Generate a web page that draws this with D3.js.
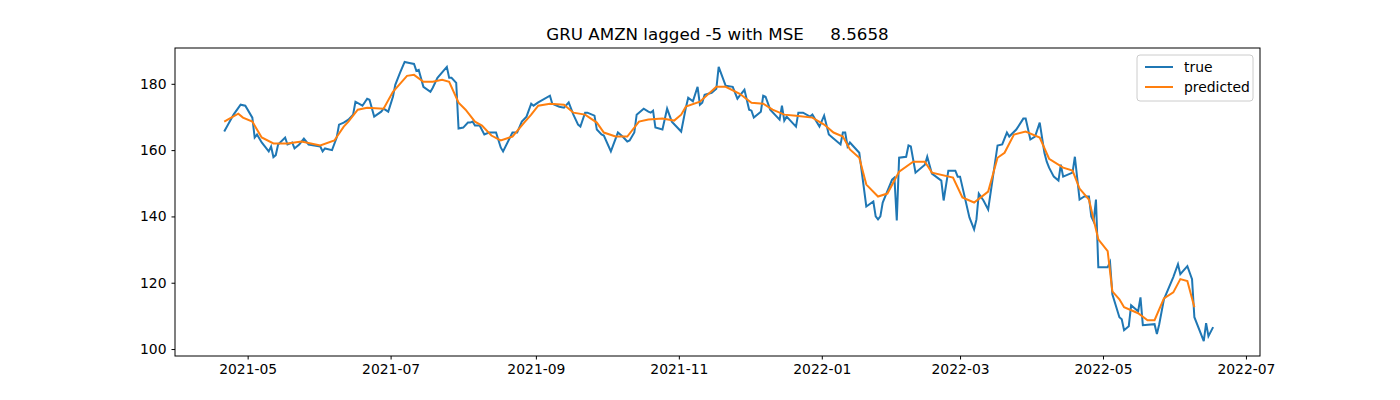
<!DOCTYPE html>
<html><head><meta charset="utf-8">
<script src="https://cdn.jsdelivr.net/npm/d3@7"></script>
<style>body{margin:0;background:#fff}text{font-family:"DejaVu Sans",sans-serif}</style>
</head><body><svg width="1400" height="400"></svg>
<script>
// true prices (date, value)
var trueDates = ["2021-04-21","2021-04-25","2021-04-28","2021-04-30","2021-05-03","2021-05-04","2021-05-05","2021-05-07","2021-05-10","2021-05-11","2021-05-12","2021-05-13","2021-05-14","2021-05-17","2021-05-18","2021-05-20","2021-05-21","2021-05-23","2021-05-25","2021-05-27","2021-06-01","2021-06-02","2021-06-03","2021-06-06","2021-06-08","2021-06-09","2021-06-11","2021-06-13","2021-06-15","2021-06-16","2021-06-19","2021-06-21","2021-06-22","2021-06-24","2021-06-27","2021-06-28","2021-06-30","2021-07-02","2021-07-03","2021-07-05","2021-07-07","2021-07-09","2021-07-11","2021-07-12","2021-07-13","2021-07-15","2021-07-18","2021-07-19","2021-07-21","2021-07-25","2021-07-26","2021-07-27","2021-07-29","2021-07-30","2021-08-01","2021-08-03","2021-08-04","2021-08-05","2021-08-06","2021-08-08","2021-08-10","2021-08-12","2021-08-15","2021-08-17","2021-08-18","2021-08-22","2021-08-24","2021-08-26","2021-08-28","2021-08-30","2021-08-31","2021-09-02","2021-09-07","2021-09-08","2021-09-11","2021-09-13","2021-09-15","2021-09-17","2021-09-19","2021-09-20","2021-09-22","2021-09-23","2021-09-26","2021-09-27","2021-09-29","2021-09-30","2021-10-03","2021-10-06","2021-10-08","2021-10-10","2021-10-11","2021-10-13","2021-10-14","2021-10-17","2021-10-19","2021-10-20","2021-10-21","2021-10-22","2021-10-25","2021-10-27","2021-10-29","2021-11-02","2021-11-04","2021-11-05","2021-11-07","2021-11-09","2021-11-10","2021-11-11","2021-11-12","2021-11-15","2021-11-17","2021-11-18","2021-11-21","2021-11-24","2021-11-26","2021-11-27","2021-11-29","2021-12-01","2021-12-02","2021-12-03","2021-12-06","2021-12-07","2021-12-08","2021-12-10","2021-12-14","2021-12-15","2021-12-16","2021-12-17","2021-12-21","2021-12-22","2021-12-24","2021-12-27","2021-12-28","2021-12-31","2022-01-02","2022-01-04","2022-01-06","2022-01-09","2022-01-10","2022-01-11","2022-01-12","2022-01-13","2022-01-17","2022-01-20","2022-01-23","2022-01-24","2022-01-25","2022-01-26","2022-01-27","2022-01-31","2022-02-01","2022-02-02","2022-02-03","2022-02-06","2022-02-07","2022-02-08","2022-02-10","2022-02-14","2022-02-15","2022-02-17","2022-02-21","2022-02-22","2022-02-24","2022-02-27","2022-02-28","2022-03-01","2022-03-05","2022-03-07","2022-03-08","2022-03-09","2022-03-11","2022-03-13","2022-03-17","2022-03-19","2022-03-21","2022-03-22","2022-03-25","2022-03-28","2022-03-29","2022-03-31","2022-04-02","2022-04-04","2022-04-06","2022-04-07","2022-04-08","2022-04-10","2022-04-12","2022-04-13","2022-04-14","2022-04-18","2022-04-19","2022-04-21","2022-04-23","2022-04-25","2022-04-26","2022-04-27","2022-04-28","2022-04-29","2022-05-03","2022-05-04","2022-05-05","2022-05-08","2022-05-09","2022-05-10","2022-05-12","2022-05-13","2022-05-16","2022-05-17","2022-05-18","2022-05-23","2022-05-24","2022-05-25","2022-05-27","2022-05-31","2022-06-02","2022-06-03","2022-06-06","2022-06-08","2022-06-09","2022-06-13","2022-06-14","2022-06-15","2022-06-17"];
var trueValues = [165.6,170.7,173.7,173.4,169.8,163.8,164.7,162.3,159.6,161.1,157.9,158.5,161.7,163.8,161.7,162.3,160.5,161.7,163.5,161.7,161.1,159.6,160.5,160.0,163.8,167.7,168.3,169.2,170.7,174.6,173.4,175.5,175.2,170.1,171.6,172.5,171.6,176.1,179.7,183.3,186.6,186.3,186.0,183.9,184.2,179.1,177.6,178.8,181.8,185.1,181.8,181.8,180.3,166.5,166.8,168.3,168.3,168.6,167.4,167.4,164.7,165.3,165.3,160.8,159.6,165.3,165.3,168.6,170.1,174.0,173.4,174.4,176.4,174.0,173.1,172.8,174.4,170.7,167.7,167.1,171.3,171.3,170.4,166.2,164.7,164.4,159.6,165.3,164.1,162.6,162.9,165.3,170.7,172.5,171.6,171.3,171.9,166.8,166.2,172.5,168.6,165.6,172.8,175.8,174.7,179.1,173.7,174.3,176.7,177.3,178.5,185.1,179.4,179.1,175.5,176.4,178.2,172.2,171.9,169.8,171.6,176.4,176.1,172.2,169.2,173.4,168.9,170.1,167.1,171.3,171.3,170.1,170.7,167.1,170.4,164.7,163.5,161.7,165.3,165.3,161.1,162.3,159.2,143.0,144.5,140.0,139.1,140.0,144.2,151.1,151.7,138.8,157.7,158.0,161.4,161.1,153.2,155.6,158.0,152.9,150.8,144.8,153.8,153.8,152.0,152.0,139.7,136.1,139.1,146.9,144.8,142.1,161.4,161.7,165.3,164.1,166.2,169.5,169.5,163.2,164.1,168.3,159.2,156.5,154.7,152.0,150.8,155.6,152.0,153.2,158.0,145.1,146.0,146.0,140.0,138.5,145.1,124.7,124.7,126.2,116.5,109.6,109.0,105.7,106.9,113.2,111.4,115.6,107.2,107.5,104.5,107.5,115.0,121.7,125.6,122.6,125.0,121.1,109.6,102.4,107.8,103.9,106.6];

// predicted prices
var predDates = ["2021-04-21","2021-04-27","2021-04-29","2021-05-03","2021-05-07","2021-05-12","2021-05-18","2021-05-24","2021-06-01","2021-06-07","2021-06-11","2021-06-13","2021-06-17","2021-06-21","2021-06-28","2021-07-02","2021-07-05","2021-07-08","2021-07-11","2021-07-15","2021-07-19","2021-07-23","2021-07-26","2021-07-30","2021-08-02","2021-08-06","2021-08-09","2021-08-13","2021-08-17","2021-08-22","2021-08-27","2021-08-30","2021-09-02","2021-09-07","2021-09-13","2021-09-17","2021-09-22","2021-09-27","2021-09-30","2021-10-05","2021-10-10","2021-10-15","2021-10-19","2021-10-25","2021-10-30","2021-11-02","2021-11-04","2021-11-10","2021-11-17","2021-11-21","2021-11-27","2021-12-02","2021-12-07","2021-12-11","2021-12-16","2021-12-21","2021-12-28","2022-01-02","2022-01-06","2022-01-10","2022-01-13","2022-01-17","2022-01-20","2022-01-25","2022-01-29","2022-02-03","2022-02-09","2022-02-14","2022-02-17","2022-02-26","2022-03-02","2022-03-07","2022-03-13","2022-03-17","2022-03-20","2022-03-24","2022-03-29","2022-04-04","2022-04-08","2022-04-14","2022-04-18","2022-04-21","2022-04-25","2022-04-29","2022-05-03","2022-05-05","2022-05-08","2022-05-10","2022-05-16","2022-05-20","2022-05-23","2022-05-27","2022-05-31","2022-06-03","2022-06-06","2022-06-09"];
var predValues = [168.6,171.0,169.8,168.6,163.8,162.0,162.0,162.6,161.4,162.9,167.1,168.6,172.2,172.8,172.5,177.6,180.0,182.4,182.7,180.6,180.6,181.2,180.6,174.3,172.2,168.6,167.4,164.4,162.9,164.1,168.3,170.7,173.4,174.0,173.7,171.3,170.7,168.3,165.3,164.1,164.1,168.6,169.2,169.5,168.9,170.7,173.1,174.6,179.1,179.1,177.0,174.3,174.0,172.2,170.7,170.4,169.8,167.7,165.3,164.1,160.2,157.7,149.6,146.0,146.9,153.5,156.5,156.5,153.2,151.7,145.7,144.2,147.5,157.7,159.2,164.7,165.6,163.8,157.4,154.7,153.8,148.4,145.1,133.1,129.5,117.4,115.0,112.6,110.8,108.7,108.7,115.3,117.1,121.1,120.5,112.6];

var yTicks = [100, 120, 140, 160, 180];
var xTicks = ["2021-05-01","2021-07-01","2021-09-01","2021-11-01","2022-01-01","2022-03-01","2022-05-01","2022-07-01"];
var seriesNames = ["true", "predicted"];
var colors = ["#1f77b4", "#ff7f0e"];

var parse = d3.timeParse("%Y-%m-%d");
var trueData = trueDates.map(function(d, i){ return {date: parse(d), value: trueValues[i]}; });
var predData = predDates.map(function(d, i){ return {date: parse(d), value: predValues[i]}; });

var plotLeft = 175, plotRight = 1260, plotTop = 48, plotBottom = 356;
var svg = d3.select('svg');

var scaleX = d3.scaleTime().domain([parse("2021-03-31"), parse("2022-07-07")]).range([plotLeft, plotRight]);
var scaleY = d3.scaleLinear().domain([97.9, 190.8]).range([plotBottom, plotTop]);

svg.append('g')
    .attr('transform', 'translate(0,' + plotBottom + ')')
    .call(d3.axisBottom(scaleX).tickValues(xTicks.map(parse)).tickFormat(d3.timeFormat("%Y-%m")).tickSizeOuter(0).tickSize(3.5).tickPadding(5))
    .call(function(g){ g.select('.domain').remove(); g.selectAll('text').style('font-size', '13.9px').attr('fill', '#000'); });

svg.append('g')
    .attr('transform', 'translate(' + plotLeft + ',0)')
    .call(d3.axisLeft(scaleY).tickValues(yTicks).tickSizeOuter(0).tickSize(3.5).tickPadding(5))
    .call(function(g){ g.select('.domain').remove(); g.selectAll('text').style('font-size', '13.9px').attr('fill', '#000'); });

var line = d3.line().x(function(d){ return scaleX(d.date); }).y(function(d){ return scaleY(d.value); });

svg.append('path').datum(trueData).attr('d', line).attr('fill', 'none').attr('stroke', colors[0]).attr('stroke-width', 2);
svg.append('path').datum(predData).attr('d', line).attr('fill', 'none').attr('stroke', colors[1]).attr('stroke-width', 2);

// frame
svg.append('rect').attr('x', plotLeft).attr('y', plotTop).attr('width', plotRight - plotLeft).attr('height', plotBottom - plotTop)
    .attr('fill', 'none').attr('stroke', '#000').attr('stroke-width', 1);

svg.append('text')
    .attr('x', (plotLeft + plotRight) / 2).attr('y', 40)
    .attr('text-anchor', 'middle').style('font-size', '16.7px').style('white-space', 'pre')
    .text('GRU AMZN lagged -5 with MSE     8.5658');

// legend
var lg = svg.append('g').attr('transform', 'translate(1137,55)');
lg.append('rect').attr('width', 116).attr('height', 46).attr('rx', 3)
    .attr('fill', '#fff').attr('stroke', '#ccc');
seriesNames.forEach(function(name, i){
    var y = 12 + i * 20;
    lg.append('line').attr('x1', 8).attr('x2', 36).attr('y1', y).attr('y2', y)
        .attr('stroke', colors[i]).attr('stroke-width', 2);
    lg.append('text').attr('x', 47).attr('y', y + 5).style('font-size', '13.9px').text(name);
});
</script>
</body></html>
